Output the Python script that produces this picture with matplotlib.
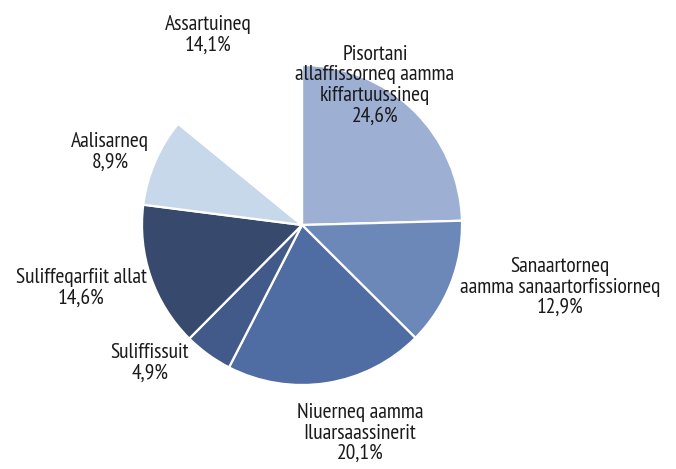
import matplotlib.pyplot as plt

plt.rcParams['font.family'] = ['PT Sans Narrow', 'Liberation Sans', 'DejaVu Sans']

# 数据
labels = ['Pisortani\nallaffissorneq aamma\nkiffartuussineq',
          'Sanaartorneq\naamma sanaartorfissiorneq',
          'Niuerneq aamma\nIluarsaassinerit',
          'Suliffissuit',
          'Suliffeqarfiit allat',
          'Aalisarneq',
          'Assartuineq']
values = [24.6, 12.9, 20.1, 4.9, 14.6, 8.9, 14.1]
colors = ['#9db0d4', '#6b88b9', '#4f6ca3', '#425a89', '#37496d', '#c8d8eb', '#ffffff']

# 标签位置 (像素)
label_pos = [(375, 85), (560, 287), (360, 433), (150, 363), (81, 288), (110, 152), (208, 35)]

W, H = 676, 469
fig = plt.figure(figsize=(W / 100, H / 100), dpi=100)
ax = fig.add_axes([0, 0, 1, 1])

ax.pie(values, colors=colors, startangle=90, counterclock=False,
       center=(302, H - 225), radius=160, frame=True,
       wedgeprops=dict(edgecolor='white', linewidth=1.6))
ax.set_xlim(0, W)
ax.set_ylim(0, H)
ax.set_aspect('equal')
ax.axis('off')

for lab, v, (x, y) in zip(labels, values, label_pos):
    txt = f'{lab}\n{v:.1f}%'.replace('.', ',')
    ax.text(x, H - y, txt, ha='center', va='center', fontsize=15.5,
            color='#1a1a1a', linespacing=1.1)

fig.savefig('out.png', dpi=100)
